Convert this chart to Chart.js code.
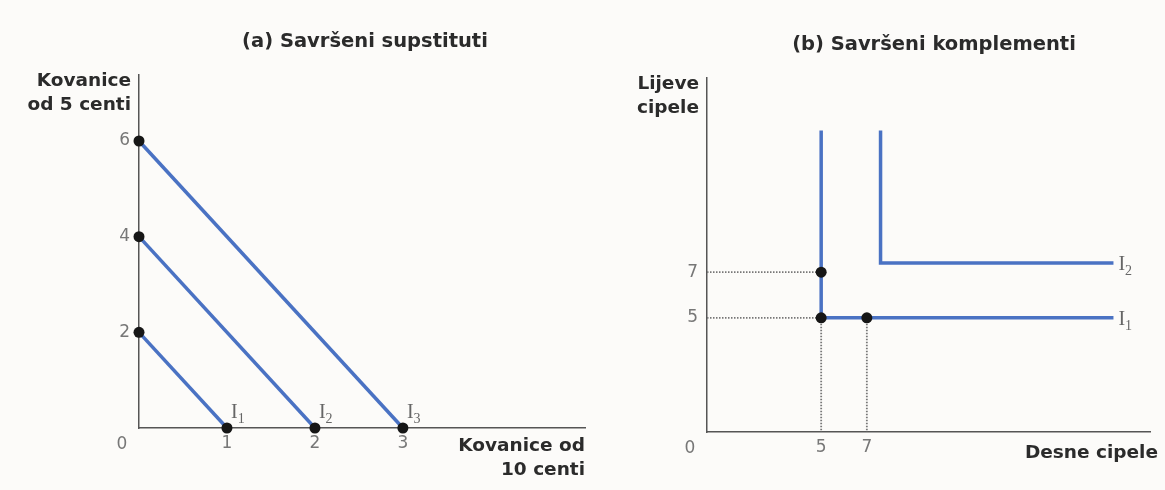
<!DOCTYPE html>
<html>
<head>
<meta charset="utf-8">
<script src="https://cdn.jsdelivr.net/npm/chart.js@4/dist/chart.umd.min.js"></script>
<style>
  html, body { margin: 0; padding: 0; background: #fcfbf9; }
  #wrap { position: relative; width: 1165px; height: 490px; }
  canvas { position: absolute; top: 0; }
  #lijevo { left: 0; }
  #desno { left: 600px; }
</style>
</head>
<body>
<div id="wrap">
  <canvas id="lijevo" width="600" height="490"></canvas>
  <canvas id="desno" width="565" height="490"></canvas>
</div>
<script>
// (a) Savrseni supstituti - presjeci krivulja indiferencije s osima
const supX = [1, 2, 3];
const supY = [2, 4, 6];
const supOznake = ['1', '2', '3'];
const supXTicks = [1, 2, 3];
const supYTicks = [2, 4, 6];

// (b) Savrseni komplementi - lomljene krivulje
const kompI1x = [5, 5, 17.8];
const kompI1y = [13.2, 5, 5];
const kompI2x = [7.6, 7.6, 17.8];
const kompI2y = [13.2, 7.4, 7.4];
const kompTockeX = [5, 5, 7];
const kompTockeY = [7, 5, 5];
const kompOznake = ['1', '2'];
const kompXTicks = [5, 7];
const kompYTicks = [5, 7];

const PLAVA = '#4a72c3';
const CRNA = '#161616';
const SIVA = '#777';
const TAMNA = '#2b2b2b';
const FONT = '"DejaVu Sans", Verdana, sans-serif';

const spoji = (xs, ys) => xs.map((x, i) => ({ x: x, y: ys[i] }));

function osi(xMax, yMax, xTicks, yTicks) {
  const zajednicko = {
    type: 'linear',
    grid: { display: false, drawTicks: false },
    border: { display: true, color: '#555', width: 1.5 },
    ticks: { color: SIVA, font: { family: FONT, size: 17 }, autoSkip: false, maxRotation: 0 }
  };
  return {
    x: Object.assign({}, zajednicko, {
      min: 0, max: xMax,
      ticks: Object.assign({}, zajednicko.ticks, { padding: 5 }),
      afterBuildTicks: s => { s.ticks = xTicks.map(v => ({ value: v })); },
      afterFit: s => { s.height = 30; }
    }),
    y: Object.assign({}, zajednicko, {
      min: 0, max: yMax,
      ticks: Object.assign({}, zajednicko.ticks, { padding: 9 }),
      afterBuildTicks: s => { s.ticks = yTicks.map(v => ({ value: v })); },
      afterFit: s => { s.width = 30; }
    })
  };
}

function oznakaI(ctx, x, y, n) {
  ctx.fillStyle = '#666';
  ctx.textAlign = 'left';
  ctx.textBaseline = 'alphabetic';
  ctx.font = '20px "Liberation Serif", serif';
  ctx.fillText('I', x, y);
  const w = ctx.measureText('I').width;
  ctx.font = '14px "Liberation Serif", serif';
  ctx.fillText(n, x + w, y + 5);
}

// naslovi, nazivi osi, nula i oznake krivulja
const tekstovi = {
  id: 'tekstovi',
  afterDraw(chart, args, o) {
    const ctx = chart.ctx;
    const x = chart.scales.x, y = chart.scales.y;
    const x0 = x.getPixelForValue(0), y0 = y.getPixelForValue(0);
    ctx.save();
    ctx.textBaseline = 'middle';
    ctx.fillStyle = TAMNA;
    ctx.font = 'bold 19.5px ' + FONT;
    ctx.textAlign = 'center';
    ctx.fillText(o.naslov, o.naslovX, o.naslovY);
    ctx.font = 'bold 18.5px ' + FONT;
    ctx.textAlign = 'right';
    o.yNaziv.forEach((t, i) => ctx.fillText(t, x0 - 8, y.top + 6 + i * 24));
    o.xNaziv.forEach((t, i) => ctx.fillText(t, x.right + o.xNazivPomak, y0 + 18 + i * 24 + o.xNazivDolje));
    ctx.fillStyle = SIVA;
    ctx.font = '17px ' + FONT;
    ctx.textAlign = 'center';
    ctx.fillText('0', x0 - 17, y0 + 17);
    o.krivulje(chart).forEach(k => oznakaI(ctx, k.x, k.y, k.n));
    ctx.restore();
  }
};

const zajednickeOpcije = {
  responsive: false,
  animation: false,
  events: [],
  plugins: { legend: { display: false }, tooltip: { enabled: false } }
};

// (a)
new Chart(document.getElementById('lijevo'), {
  type: 'scatter',
  data: {
    datasets: supX.map((v, i) => ({
      data: [{ x: 0, y: supY[i] }, { x: v, y: 0 }],
      showLine: true,
      borderColor: PLAVA,
      borderWidth: 3.5,
      pointRadius: 5.5,
      pointBackgroundColor: CRNA,
      pointBorderWidth: 0,
      clip: false
    }))
  },
  options: Object.assign({}, zajednickeOpcije, {
    layout: { padding: { left: 109, top: 75, right: 15, bottom: 32 } },
    scales: osi(5.07, 7.38, supXTicks, supYTicks),
    plugins: Object.assign({}, zajednickeOpcije.plugins, {
      tekstovi: {
        naslov: '(a) Savršeni supstituti', naslovX: 365, naslovY: 42,
        yNaziv: ['Kovanice', 'od 5 centi'],
        xNaziv: ['Kovanice od', '10 centi'], xNazivPomak: 0, xNazivDolje: 0,
        krivulje: ch => supX.map((v, i) => ({
          x: ch.scales.x.getPixelForValue(v) + 4,
          y: ch.scales.y.getPixelForValue(0) - 10,
          n: supOznake[i]
        }))
      }
    })
  }),
  plugins: [tekstovi]
});

// (b) isprekidane vodilice: vodoravna za svaku razinu y, okomita za svaki x (bez preklapanja)
const vodilice = [];
const vidjenoY = {}, vidjenoX = {};
kompTockeX.forEach((px, i) => {
  const py = kompTockeY[i];
  const minX = Math.min(...kompTockeX.filter((_, j) => kompTockeY[j] === py));
  const minY = Math.min(...kompTockeY.filter((_, j) => kompTockeX[j] === px));
  if (!vidjenoY[py]) { vidjenoY[py] = 1; vodilice.push([{ x: 0, y: py }, { x: minX, y: py }]); }
  if (!vidjenoX[px]) { vidjenoX[px] = 1; vodilice.push([{ x: px, y: minY }, { x: px, y: 0 }]); }
});

new Chart(document.getElementById('desno'), {
  type: 'scatter',
  data: {
    datasets: [
      {
        data: spoji(kompTockeX, kompTockeY),
        pointRadius: 5.5,
        pointBackgroundColor: CRNA,
        pointBorderWidth: 0,
        clip: false,
        order: 0
      },
      {
        data: spoji(kompI1x, kompI1y),
        showLine: true, borderColor: PLAVA, borderWidth: 3.5, pointRadius: 0, order: 1
      },
      {
        data: spoji(kompI2x, kompI2y),
        showLine: true, borderColor: PLAVA, borderWidth: 3.5, pointRadius: 0, order: 1
      }
    ].concat(vodilice.map(d => ({
      data: d,
      showLine: true,
      borderColor: '#777',
      borderWidth: 1.8,
      borderDash: [1.5, 1.5],
      pointRadius: 0,
      order: 2
    })))
  },
  options: Object.assign({}, zajednickeOpcije, {
    layout: { padding: { left: 77, top: 78, right: 15, bottom: 28 } },
    scales: osi(19.4, 15.5, kompXTicks, kompYTicks),
    plugins: Object.assign({}, zajednickeOpcije.plugins, {
      tekstovi: {
        naslov: '(b) Savršeni komplementi', naslovX: 334, naslovY: 45,
        yNaziv: ['Lijeve', 'cipele'],
        xNaziv: ['Desne cipele'], xNazivPomak: 8, xNazivDolje: 3,
        krivulje: ch => [kompI1y[2], kompI2y[2]].map((v, i) => ({
          x: ch.scales.x.getPixelForValue(kompI1x[2]) + 5,
          y: ch.scales.y.getPixelForValue(v) + 7,
          n: kompOznake[i]
        }))
      }
    })
  }),
  plugins: [tekstovi]
});
</script>
</body>
</html>
